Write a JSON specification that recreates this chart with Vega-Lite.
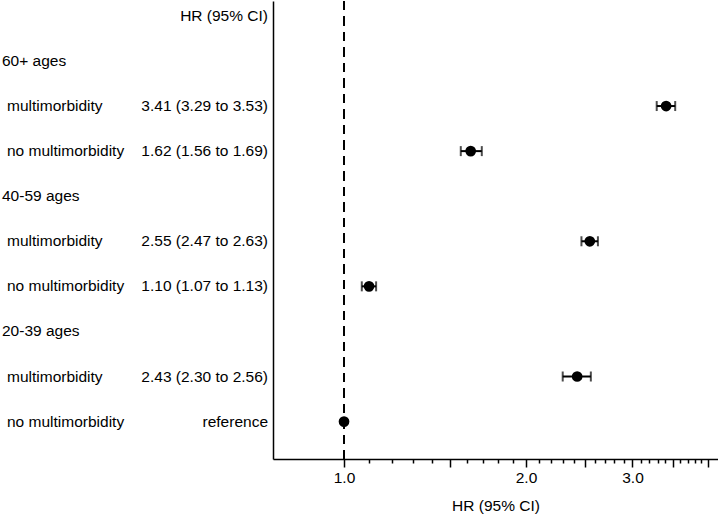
{
  "$schema": "https://vega.github.io/schema/vega-lite/v6.json",
  "padding": {"left": 0, "top": 0, "right": 0, "bottom": 0},
  "background": "white",
  "config": {
    "view": {"stroke": null},
    "font": "Liberation Sans",
    "text": {"font": "Liberation Sans", "fontSize": 15.5, "color": "black"}
  },
  "data": {
    "values": [
      {"row": 0, "label": "", "kind": "header", "hr": "HR (95% CI)"},
      {"row": 1, "label": "60+ ages", "kind": "group", "hr": ""},
      {"row": 2, "label": "multimorbidity", "kind": "sub", "hr": "3.41 (3.29 to 3.53)", "est": 3.41, "lo": 3.29, "hi": 3.53},
      {"row": 3, "label": "no multimorbidity", "kind": "sub", "hr": "1.62 (1.56 to 1.69)", "est": 1.62, "lo": 1.56, "hi": 1.69},
      {"row": 4, "label": "40-59 ages", "kind": "group", "hr": ""},
      {"row": 5, "label": "multimorbidity", "kind": "sub", "hr": "2.55 (2.47 to 2.63)", "est": 2.55, "lo": 2.47, "hi": 2.63},
      {"row": 6, "label": "no multimorbidity", "kind": "sub", "hr": "1.10 (1.07 to 1.13)", "est": 1.10, "lo": 1.07, "hi": 1.13},
      {"row": 7, "label": "20-39 ages", "kind": "group", "hr": ""},
      {"row": 8, "label": "multimorbidity", "kind": "sub", "hr": "2.43 (2.30 to 2.56)", "est": 2.43, "lo": 2.30, "hi": 2.56},
      {"row": 9, "label": "no multimorbidity", "kind": "sub", "hr": "reference", "est": 1.0}
    ]
  },
  "spacing": 0,
  "hconcat": [
    {
      "width": 273,
      "height": 458,
      "layer": [
        {
          "transform": [{"filter": "datum.kind === 'group'"}],
          "mark": {"type": "text", "align": "left", "baseline": "middle", "dx": 2},
          "encoding": {
            "x": {"datum": 0, "type": "quantitative", "scale": {"domain": [0, 1]}, "axis": null},
            "y": {"field": "row", "type": "quantitative", "scale": {"domain": [-0.33, 9.83], "reverse": true, "zero": false, "nice": false}, "axis": null},
            "text": {"field": "label"}
          }
        },
        {
          "transform": [{"filter": "datum.kind === 'sub'"}],
          "mark": {"type": "text", "align": "left", "baseline": "middle", "dx": 7},
          "encoding": {
            "x": {"datum": 0, "type": "quantitative", "scale": {"domain": [0, 1]}, "axis": null},
            "y": {"field": "row", "type": "quantitative", "scale": {"domain": [-0.33, 9.83], "reverse": true, "zero": false, "nice": false}, "axis": null},
            "text": {"field": "label"}
          }
        },
        {
          "mark": {"type": "text", "align": "right", "baseline": "middle", "dx": -5},
          "encoding": {
            "x": {"datum": 1, "type": "quantitative", "scale": {"domain": [0, 1]}, "axis": null},
            "y": {"field": "row", "type": "quantitative", "scale": {"domain": [-0.33, 9.83], "reverse": true, "zero": false, "nice": false}, "axis": null},
            "text": {"field": "hr"}
          }
        }
      ]
    },
    {
      "width": 445,
      "height": 458,
      "encoding": {
        "y": {
          "field": "row", "type": "quantitative",
          "scale": {"domain": [-0.33, 9.83], "reverse": true, "zero": false, "nice": false},
          "axis": {"labels": false, "ticks": false, "grid": false, "title": null, "domain": true, "domainColor": "black", "domainWidth": 1.5, "minExtent": 0, "maxExtent": 0}
        }
      },
      "layer": [
        {
          "mark": {"type": "rule", "strokeDash": [9, 6.5], "strokeWidth": 1.3, "color": "black"},
          "encoding": {
            "x": {"datum": 1, "type": "quantitative", "title": "HR (95% CI)"},
            "y": null
          }
        },
        {
          "transform": [{"filter": "isValid(datum.lo)"}],
          "mark": {"type": "errorbar", "color": "black", "thickness": 2, "ticks": {"size": 10, "thickness": 2, "color": "black"}},
          "encoding": {
            "x": {"field": "lo", "type": "quantitative", "title": "HR (95% CI)"},
            "x2": {"field": "hi"}
          }
        },
        {
          "transform": [{"filter": "isValid(datum.est)"}],
          "mark": {"type": "point", "filled": true, "shape": "circle", "size": 115, "color": "black", "opacity": 1},
          "encoding": {
            "x": {
              "field": "est", "type": "quantitative", "title": "HR (95% CI)",
              "scale": {"type": "log", "domain": [0.763, 4.155], "nice": false, "zero": false},
              "axis": {
                "values": [1.0, 1.1, 1.2, 1.3, 1.4, 1.5, 1.6, 1.7, 1.8, 1.9, 2.0, 2.1, 2.2, 2.3, 2.4, 2.5, 2.6, 2.7, 2.8, 2.9, 3.0, 3.1, 3.2, 3.3, 3.4, 3.5, 3.6, 3.7, 3.8, 3.9, 4.0],
                "labelExpr": "(datum.value === 1 || datum.value === 2 || datum.value === 3) ? format(datum.value, '.1f') : ''",
                "labelOverlap": false,
                "labelFlush": false,
                "labelFont": "Liberation Sans",
                "labelFontSize": 15.5,
                "labelColor": "black",
                "labelPadding": 3,
                "tickColor": "black",
                "tickWidth": 1.5,
                "tickSize": {"condition": {"test": "indexof([1, 1.5, 2, 2.5, 3, 3.5, 4], datum.value) >= 0", "value": 8}, "value": 4},
                "domainColor": "black",
                "domainWidth": 1.5,
                "grid": false,
                "title": "HR (95% CI)",
                "titleFont": "Liberation Sans",
                "titleFontSize": 15.5,
                "titleFontWeight": "normal",
                "titleColor": "black",
                "titlePadding": 13
              }
            }
          }
        }
      ]
    }
  ]
}
